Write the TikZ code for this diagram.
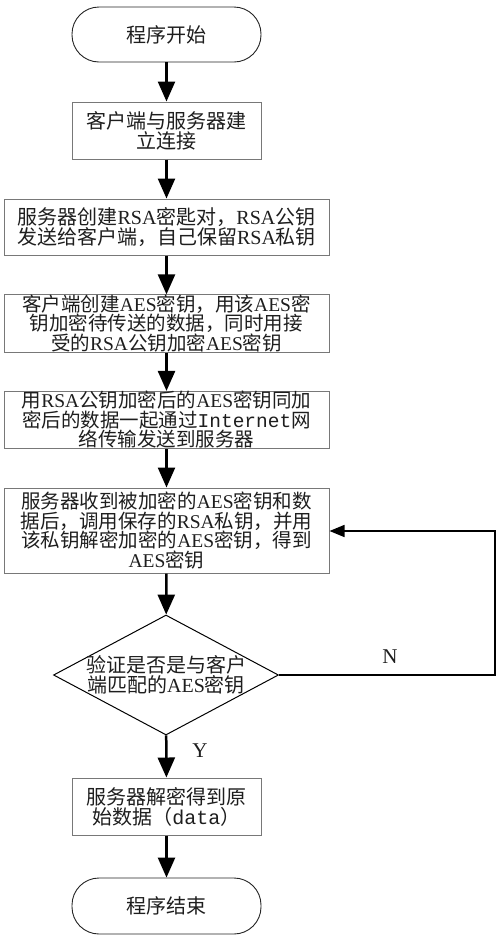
\documentclass[tikz,border=0pt]{standalone}
\usepackage{fontspec}
\setmainfont{Noto Sans CJK SC}
\newfontfamily\enf{Liberation Serif}
\newfontfamily\monof{Liberation Mono}
\newcommand{\en}[1]{{\enf #1}}
\newcommand{\mo}[1]{{\monof #1}}
\usetikzlibrary{arrows.meta,shapes.geometric}
\definecolor{boxgray}{RGB}{120,120,120}
\definecolor{txt}{RGB}{30,30,30}
\begin{document}
\begin{tikzpicture}[x=1pt,y=-1pt,
  every node/.style={text=txt},
  txtfont/.style={font=\fontsize{20}{20}\selectfont},
  tightfont/.style={font=\fontsize{19.5}{19.5}\selectfont},
  terminal/.style={draw=black!85,line width=0.9pt,rounded corners=27pt,minimum width=189pt,inner sep=0pt,txtfont},
  procbox/.style={draw=boxgray,line width=1pt,inner sep=0pt,align=center,txtfont},
  flow/.style={line width=2.5pt,-{Triangle[length=20pt,width=17pt]}},
  backflow/.style={line width=1.5pt,-{Triangle[length=15pt,width=12pt]}},
  yn/.style={font=\enf\fontsize{21}{21}\selectfont}
]
\useasboundingbox[fill=white] (0,0) rectangle (500,938);

\node[terminal,minimum height=55pt] (start) at (166.5,34.5) {程序开始};
\node[procbox,minimum width=189pt,minimum height=57pt] (b1) at (166.5,130.5) {客户端与服务器建\\立连接};
\node[procbox,minimum width=325pt,minimum height=56pt] (b2) at (166.5,227) {服务器创建\en{RSA}密匙对，\en{RSA}公钥\\发送给客户端，自己保留\en{RSA}私钥};
\node[procbox,minimum width=325pt,minimum height=57pt,tightfont] (b3) at (166.5,323.5) {客户端创建\en{AES}密钥，用该\en{AES}密\\钥加密待传送的数据，同时用接\\受的\en{RSA}公钥加密\en{AES}密钥};
\node[procbox,minimum width=325pt,minimum height=56pt,tightfont] (b4) at (166.5,420) {用\en{RSA}公钥加密后的\en{AES}密钥同加\\密后的数据一起通过\mo{Internet}网\\络传输发送到服务器};
\node[procbox,minimum width=325pt,minimum height=85pt,tightfont] (b5) at (166.5,530.5) {服务器收到被加密的\en{AES}密钥和数\\据后，调用保存的\en{RSA}私钥，并用\\该私钥解密加密的\en{AES}密钥，得到\\\en{AES}密钥};
\node[diamond,draw=black,line width=1pt,minimum width=225pt,minimum height=120pt,inner sep=0pt] (dia) at (166,675) {};
\node[align=center,font=\fontsize{20}{19.5}\selectfont] (diatext) at (dia.center) {验证是否是与客户\\端匹配的\en{AES}密钥};
\node[procbox,minimum width=189pt,minimum height=57pt] (b6) at (166.5,806.5) {服务器解密得到原\\始数据（\mo{data}）};
\node[terminal,minimum height=56pt] (stop) at (166.5,906) {程序结束};

\node[yn] (N) at (390,657) {N};
\node[yn] (Y) at (200,751) {Y};

\coordinate (fb1) at (495,675);
\coordinate (fb2) at (495,531);

\draw[flow] (start) -- (b1);
\draw[flow] (b1) -- (b2);
\draw[flow] (b2) -- (b3);
\draw[flow] (b3) -- (b4);
\draw[flow] (b4) -- (b5);
\draw[flow] (b5) -- (dia);
\draw[flow] (dia) -- (b6);
\draw[flow] (b6) -- (stop);
\draw[backflow] (dia.east) -- (fb1) -- (fb2) -- (b5.east |- fb2);
\end{tikzpicture}
\end{document}
